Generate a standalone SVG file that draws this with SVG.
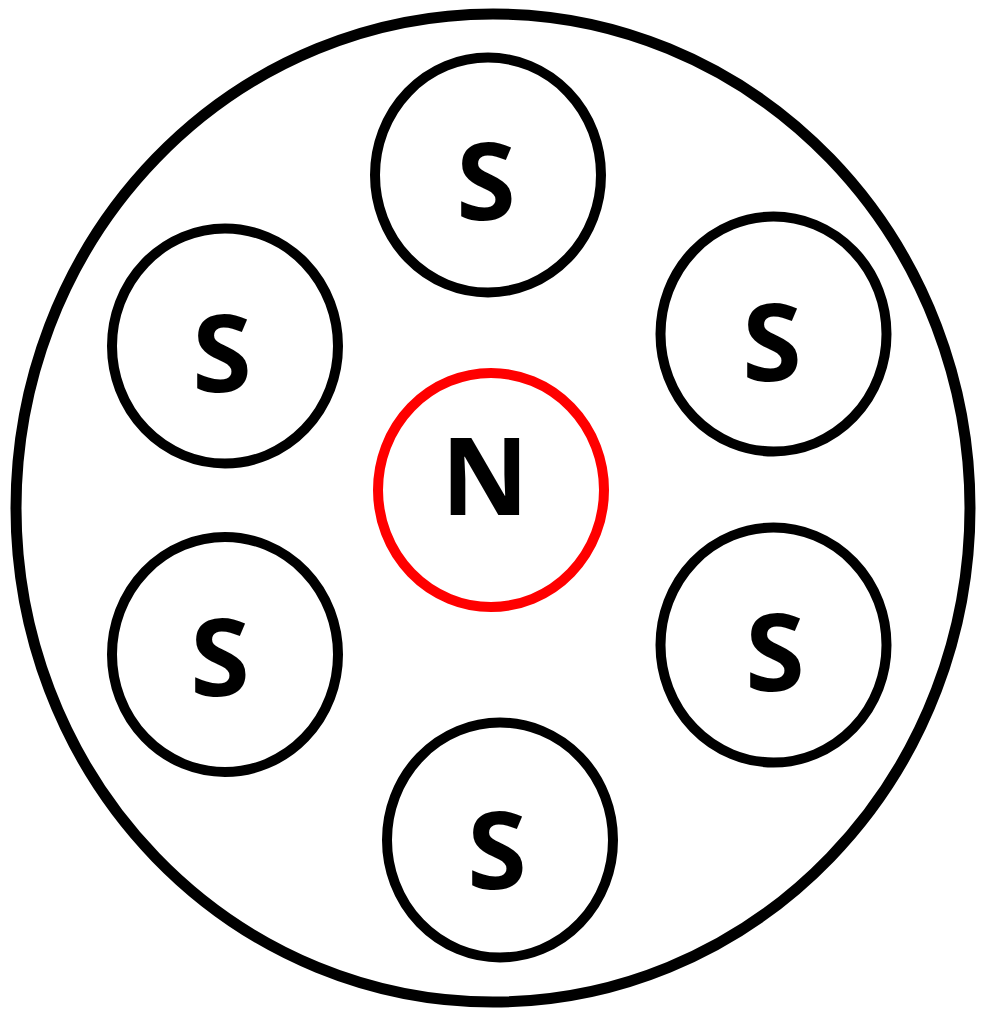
<svg xmlns="http://www.w3.org/2000/svg" width="982" height="1014" viewBox="0 0 982 1014">
<style>
.ring{fill:none;stroke:#000;stroke-width:10}
.red{stroke:#ff0000}
.lbl{font-family:"Open Sans","Liberation Sans",sans-serif;font-weight:bold;font-size:108px;fill:#000;text-anchor:middle}
</style>
<rect width="982" height="1014" fill="#fff"/>
<g id="outer"><ellipse cx="493" cy="508" rx="477" ry="494" fill="none" stroke="#000" stroke-width="11"/></g>
<g id="s-top"><ellipse class="ring" cx="488" cy="175" rx="113" ry="117.5"/><text class="lbl" x="486" y="220">S</text></g>
<g id="s-upper-left"><ellipse class="ring" cx="225" cy="346" rx="113" ry="117.5"/><text class="lbl" x="222" y="392">S</text></g>
<g id="s-upper-right"><ellipse class="ring" cx="773.5" cy="334" rx="113" ry="117.5"/><text class="lbl" x="772" y="381">S</text></g>
<g id="n-center"><ellipse class="ring red" cx="491" cy="490" rx="113" ry="117"/><text class="lbl" x="485" y="515">N</text></g>
<g id="s-lower-left"><ellipse class="ring" cx="225" cy="654.5" rx="113" ry="117.5"/><text class="lbl" x="220" y="696">S</text></g>
<g id="s-lower-right"><ellipse class="ring" cx="773.5" cy="645" rx="113" ry="117.5"/><text class="lbl" x="775" y="691">S</text></g>
<g id="s-bottom"><ellipse class="ring" cx="500" cy="840" rx="113" ry="117.5"/><text class="lbl" x="497" y="889">S</text></g>
<g id="connectors"/>
</svg>
